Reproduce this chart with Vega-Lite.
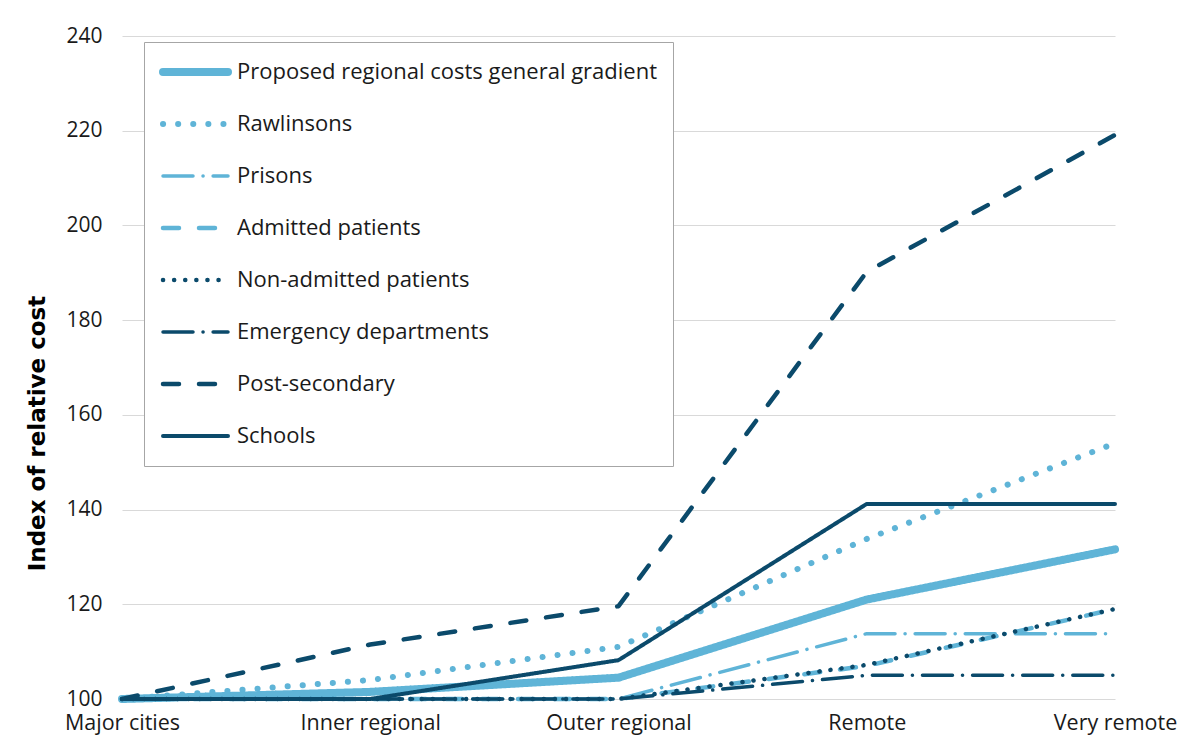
{
  "$schema": "https://vega.github.io/schema/vega-lite/v6.json",
  "width": 993,
  "height": 663,
  "padding": {"left": 26, "top": 25, "right": 40, "bottom": 2},
  "autosize": {"type": "pad"},
  "background": "white",
  "config": {
    "view": {"stroke": null},
    "font": "Open Sans"
  },
  "data": {
    "values": [
      {"region": "Major cities", "series": "Proposed regional costs general gradient", "value": 100},
      {"region": "Inner regional", "series": "Proposed regional costs general gradient", "value": 101.5},
      {"region": "Outer regional", "series": "Proposed regional costs general gradient", "value": 104.5},
      {"region": "Remote", "series": "Proposed regional costs general gradient", "value": 121},
      {"region": "Very remote", "series": "Proposed regional costs general gradient", "value": 131.6},
      {"region": "Major cities", "series": "Rawlinsons", "value": 100},
      {"region": "Inner regional", "series": "Rawlinsons", "value": 104},
      {"region": "Outer regional", "series": "Rawlinsons", "value": 111},
      {"region": "Remote", "series": "Rawlinsons", "value": 133.8},
      {"region": "Very remote", "series": "Rawlinsons", "value": 154},
      {"region": "Major cities", "series": "Prisons", "value": 100},
      {"region": "Inner regional", "series": "Prisons", "value": 100},
      {"region": "Outer regional", "series": "Prisons", "value": 100},
      {"region": "Remote", "series": "Prisons", "value": 113.8},
      {"region": "Very remote", "series": "Prisons", "value": 113.8},
      {"region": "Major cities", "series": "Admitted patients", "value": 100},
      {"region": "Inner regional", "series": "Admitted patients", "value": 100},
      {"region": "Outer regional", "series": "Admitted patients", "value": 100},
      {"region": "Remote", "series": "Admitted patients", "value": 107},
      {"region": "Very remote", "series": "Admitted patients", "value": 119},
      {"region": "Major cities", "series": "Non-admitted patients", "value": 100},
      {"region": "Inner regional", "series": "Non-admitted patients", "value": 100},
      {"region": "Outer regional", "series": "Non-admitted patients", "value": 100},
      {"region": "Remote", "series": "Non-admitted patients", "value": 107.2},
      {"region": "Very remote", "series": "Non-admitted patients", "value": 119},
      {"region": "Major cities", "series": "Emergency departments", "value": 100},
      {"region": "Inner regional", "series": "Emergency departments", "value": 100},
      {"region": "Outer regional", "series": "Emergency departments", "value": 100},
      {"region": "Remote", "series": "Emergency departments", "value": 105},
      {"region": "Very remote", "series": "Emergency departments", "value": 105},
      {"region": "Major cities", "series": "Post-secondary", "value": 100},
      {"region": "Inner regional", "series": "Post-secondary", "value": 111.5},
      {"region": "Outer regional", "series": "Post-secondary", "value": 119.6},
      {"region": "Remote", "series": "Post-secondary", "value": 190.2},
      {"region": "Very remote", "series": "Post-secondary", "value": 219.1},
      {"region": "Major cities", "series": "Schools", "value": 100},
      {"region": "Inner regional", "series": "Schools", "value": 100},
      {"region": "Outer regional", "series": "Schools", "value": 108.2},
      {"region": "Remote", "series": "Schools", "value": 141.2},
      {"region": "Very remote", "series": "Schools", "value": 141.2}
    ]
  },
  "mark": {"type": "line", "strokeCap": "round", "strokeJoin": "round"},
  "encoding": {
    "x": {
      "field": "region", "type": "ordinal",
      "sort": ["Major cities", "Inner regional", "Outer regional", "Remote", "Very remote"],
      "scale": {"type": "point", "padding": 0},
      "axis": {
        "title": null, "labelAngle": 0, "domain": false, "ticks": false,
        "labelFont": "Open Sans", "labelFontSize": 21.5, "labelColor": "#1a1a1a",
        "labelPadding": 13, "grid": false
      }
    },
    "y": {
      "field": "value", "type": "quantitative",
      "scale": {"domain": [100, 240], "nice": false, "zero": false},
      "axis": {
        "title": "Index of relative cost", "values": [100, 120, 140, 160, 180, 200, 220, 240],
        "domain": false, "ticks": false, "grid": true, "gridColor": "#d9d9d9", "gridWidth": 1.2,
        "labelFont": "Open Sans", "labelFontSize": 21, "labelColor": "#1a1a1a", "labelPadding": 20,
        "titleFont": "DejaVu Sans", "titleFontSize": 23, "titleFontWeight": "bold", "titleColor": "#000000",
        "titleX": -85, "titleY": 397, "titleAngle": -90, "titleBaseline": "middle", "titleAlign": "center"
      }
    },
    "color": {
      "field": "series", "type": "nominal",
      "scale": {
        "domain": ["Proposed regional costs general gradient", "Rawlinsons", "Prisons", "Admitted patients", "Non-admitted patients", "Emergency departments", "Post-secondary", "Schools"],
        "range": ["#5FB4D7", "#5FB4D7", "#5FB4D7", "#5FB4D7", "#0B4A6B", "#0B4A6B", "#0B4A6B", "#0B4A6B"]
      },
      "legend": {
        "title": null, "orient": "none", "legendX": 22, "legendY": 6,
        "strokeColor": "#a6a6a6", "fillColor": "white", "padding": 15,
        "symbolType": "stroke", "symbolSize": 4225, "clipHeight": 30, "rowPadding": 22,
        "labelFont": "Open Sans", "labelFontSize": 22, "labelColor": "#1a1a1a", "labelOffset": 5, "labelLimit": 0,
        "encoding": {"symbols": {"strokeCap": {"value": "round"}}}
      }
    },
    "strokeDash": {
      "field": "series", "type": "nominal",
      "scale": {
        "domain": ["Proposed regional costs general gradient", "Rawlinsons", "Prisons", "Admitted patients", "Non-admitted patients", "Emergency departments", "Post-secondary", "Schools"],
        "range": [[1, 0], [0.1, 15], [30, 10, 0.1, 10], [16, 20], [0.1, 11], [30, 10, 0.1, 10], [16, 20], [1, 0]]
      },
      "legend": {
        "title": null, "orient": "none", "legendX": 22, "legendY": 6,
        "strokeColor": "#a6a6a6", "fillColor": "white", "padding": 15,
        "symbolType": "stroke", "symbolSize": 4225, "clipHeight": 30, "rowPadding": 22,
        "labelFont": "Open Sans", "labelFontSize": 22, "labelColor": "#1a1a1a", "labelOffset": 5, "labelLimit": 0,
        "encoding": {"symbols": {"strokeCap": {"value": "round"}}}
      }
    },
    "strokeWidth": {
      "field": "series", "type": "nominal",
      "scale": {
        "type": "ordinal",
        "domain": ["Proposed regional costs general gradient", "Rawlinsons", "Prisons", "Admitted patients", "Non-admitted patients", "Emergency departments", "Post-secondary", "Schools"],
        "range": [8, 6, 3.5, 4.5, 4.5, 3.5, 4.5, 4]
      },
      "legend": {
        "title": null, "orient": "none", "legendX": 22, "legendY": 6,
        "strokeColor": "#a6a6a6", "fillColor": "white", "padding": 15,
        "symbolType": "stroke", "symbolSize": 4225, "clipHeight": 30, "rowPadding": 22,
        "labelFont": "Open Sans", "labelFontSize": 22, "labelColor": "#1a1a1a", "labelOffset": 5, "labelLimit": 0,
        "encoding": {"symbols": {"strokeCap": {"value": "round"}}}
      }
    }
  }
}
